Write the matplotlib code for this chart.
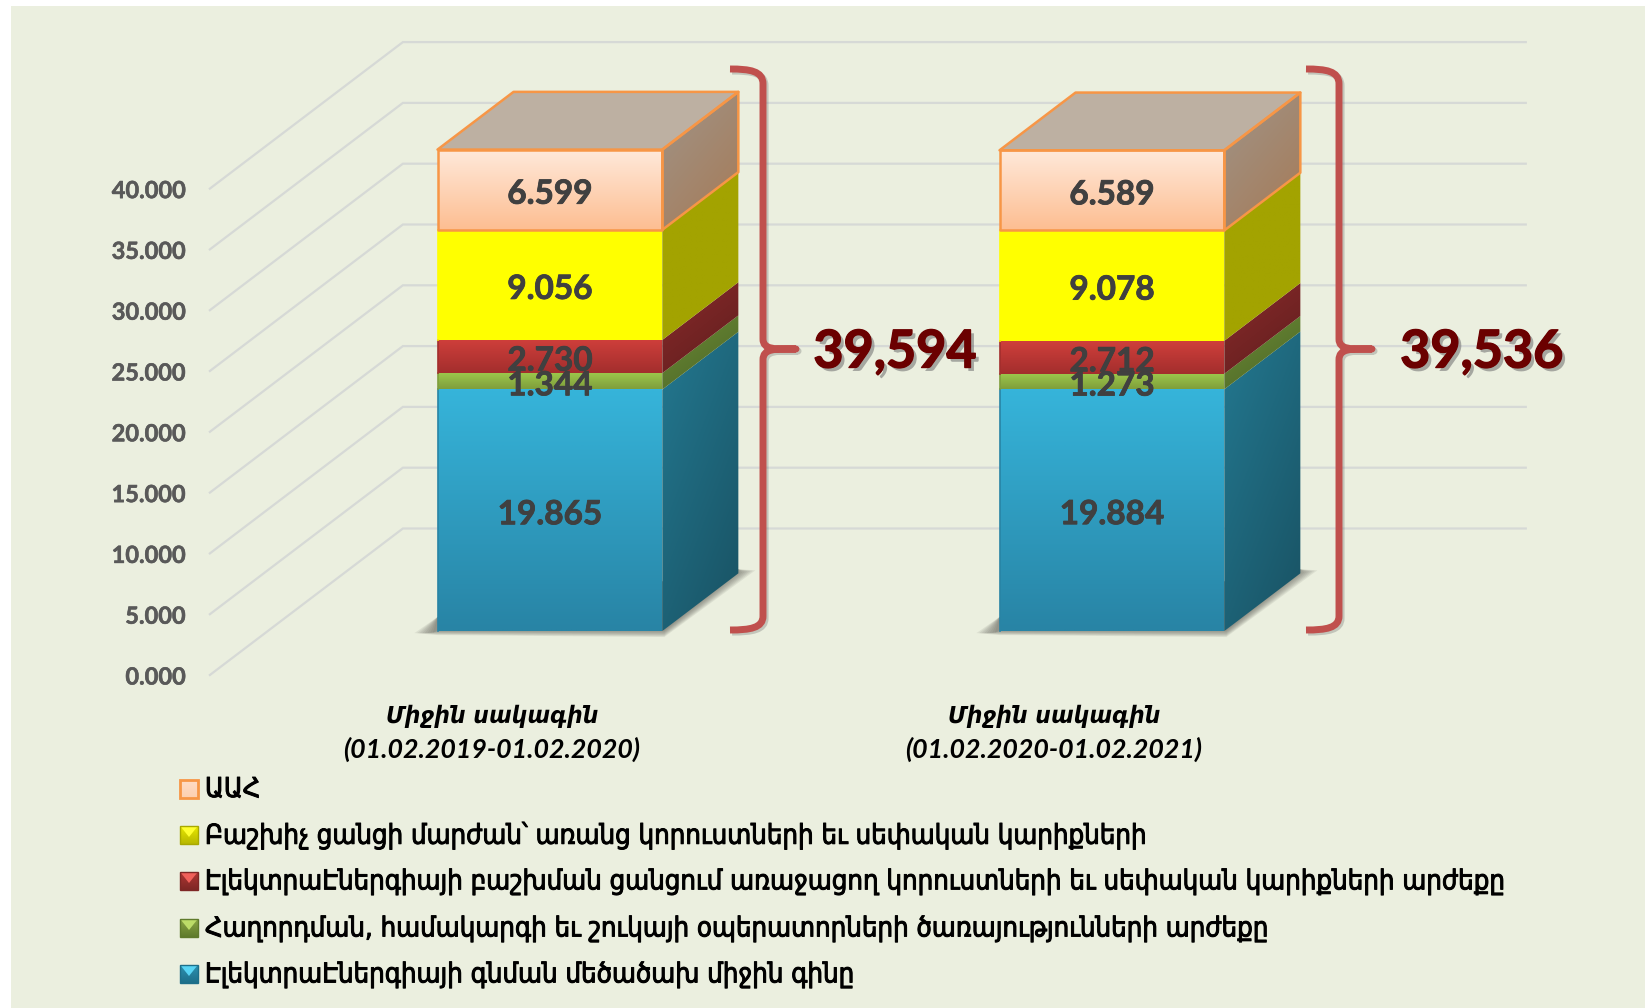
import numpy as np
import matplotlib
matplotlib.use("Agg")
from matplotlib import pyplot as plt
from matplotlib.colors import to_rgb
from matplotlib.patches import Polygon, Rectangle, PathPatch
from matplotlib.path import Path
import matplotlib.patheffects as pe

# values, in thousands as printed on the chart
vals_2020 = [19.865, 1.344, 2.730, 9.056, 6.599]
vals_2021 = [19.884, 1.273, 2.712, 9.078, 6.589]
val_labels_2020 = ["19.865", "1.344", "2.730", "9.056", "6.599"]
val_labels_2021 = ["19.884", "1.273", "2.712", "9.078", "6.589"]
totals = ["39,594", "39,536"]
ticks = [0, 5, 10, 15, 20, 25, 30, 35, 40]
tick_labels = ["0.000", "5.000", "10.000", "15.000", "20.000", "25.000", "30.000", "35.000", "40.000"]
cat_names = ["Միջին սակագին", "Միջին սակագին"]
cat_dates = ["(01.02.2019-01.02.2020)", "(01.02.2020-01.02.2021)"]
legend_labels = [
    "ԱԱՀ",
    "Բաշխիչ ցանցի մարժան՝ առանց կորուստների եւ սեփական կարիքների",
    "ԷլեկտրաԷներգիայի բաշխման ցանցում առաջացող կորուստների եւ սեփական կարիքների արժեքը",
    "Հաղորդման, համակարգի եւ շուկայի օպերատորների ծառայությունների արժեքը",
    "ԷլեկտրաԷներգիայի գնման մեծածախ միջին գինը",
]

# (front top, front bottom, side top, side bottom) for each stacked segment
seg_colors = [
    ("#36b4da", "#2884a5", "#237890", "#195263"),
    ("#9dc84c", "#7f9e3b", "#6c8c36", "#4b6426"),
    ("#cf3f3b", "#a32e2d", "#8a2b2b", "#5e1d1d"),
    ("#ffff00", "#ffff00", "#a3a300", "#a3a300"),
    ("#ffe9da", "#fdbe92", "#a09488", "#a67a56"),
]
# swatch: light triangle, body top, body bottom
swatch_colors = [("#ffe4d2", "#ffdcc6", "#fdd0b0"), ("#ffff30", "#e8e800", "#b8b800"),
                 ("#f0605a", "#b03633", "#7e2725"), ("#bcdc68", "#8aa644", "#5f7a2c"),
                 ("#58d4f4", "#2c90b0", "#1d6f8a")]
swatch_edges = ["#f79646", "#a8a800", "#7e2725", "#5f7a2c", "#1d6f8a"]
swatch_y = [789, 835, 881, 928, 974]

W, H = 1645, 1008
X0, X_UNIT = 492.0, 562.0   # pixel of category 0, pixels per category
Y0, Y_UNIT = 675.0, 12.16   # pixel of value 0, pixels per thousand
DEPTH_X = 193.0 / X_UNIT
DEPTH_Y = 146.5 / Y_UNIT
BAR_W = 0.4
BAR_D0, BAR_D1 = 0.30, 0.694
NUM_FONT = ["Lato", "DejaVu Sans"]


def proj(c, d, v):
    return c + d * DEPTH_X, v + d * DEPTH_Y


def to_px(x, y):
    return X0 + x * X_UNIT, Y0 - y * Y_UNIT


def from_px(x, y):
    return (x - X0) / X_UNIT, (Y0 - y) / Y_UNIT


def grad_poly(ax, verts, c0, c1, diag=False, zorder=3):
    xs = [p[0] for p in verts]
    ys = [p[1] for p in verts]
    n = 64
    u, t = np.meshgrid(np.linspace(0, 1, n), np.linspace(1, 0, n))
    f = 0.6 * t + 0.4 * u if diag else t
    f = f[..., None]
    img = (1 - f) * np.array(to_rgb(c0)) + f * np.array(to_rgb(c1))
    im = ax.imshow(img, extent=(min(xs), max(xs), min(ys), max(ys)), origin="lower",
                   aspect="auto", zorder=zorder, interpolation="bilinear")
    im.set_clip_path(Polygon(verts, closed=True, transform=ax.transData))


fig = plt.figure(figsize=(W / 100, H / 100), dpi=100, facecolor="white")
fig.add_artist(Rectangle((11 / W, 0), (W - 11) / W, (H - 6) / H, transform=fig.transFigure,
                         facecolor="#ebefdf", edgecolor="none", zorder=0))

ax = fig.add_axes([0, 0, 1, 1], zorder=1)
ax.patch.set_alpha(0)
ax.axis("off")
xlim = (-X0 / X_UNIT, (W - X0) / X_UNIT)
ylim = ((Y0 - H) / Y_UNIT, Y0 / Y_UNIT)

ov = fig.add_axes([0, 0, 1, 1], zorder=2)
ov.patch.set_alpha(0)
ov.axis("off")

# grid on the left wall and the back wall
for t, lab in zip(ticks, tick_labels):
    xa, ya = proj(-0.502, 0, t)
    xb, yb = proj(-0.502, 1, t)
    xc, yc = proj(1.496, 1, t)
    ax.plot([xa, xb, xc], [ya, yb, yc], color="#d6d9d6", lw=1.6, zorder=1, solid_joinstyle="miter")
    ax.text((186 - X0) / X_UNIT, t - 2.0 / Y_UNIT, lab, ha="right", va="center",
            fontsize=17, fontweight="bold", family=NUM_FONT, color="#595959",
            path_effects=[pe.withStroke(linewidth=0.4, foreground="#595959")])


def draw_bar(c, vals, labels):
    l, r = c - BAR_W / 2, c + BAR_W / 2
    lx, by = to_px(*proj(l, BAR_D0, 0))
    rx, _ = to_px(*proj(r, BAR_D0, 0))
    bx, bky = to_px(*proj(r, BAR_D1, 0))
    # soft floor shadow, stacked polygons
    for k in range(8):
        e = k * 1.3
        pts_px = [(lx - 23 + e * 2, by + 2), (lx, by - 14), (bx, bky - 4),
                  (bx + 17 - e * 2, bky - 3 + e * 0.3), (rx + 2, by + 6 - e * 0.7), (lx, by + 4 - e * 0.5)]
        ax.add_patch(Polygon([from_px(*p) for p in pts_px], closed=True, facecolor="#55554d",
                             edgecolor="none", alpha=0.1, zorder=2))
    base = 0.0
    for i, v in enumerate(vals):
        top = base + v
        front_t, front_b, side_t, side_b = seg_colors[i]
        side = [proj(r, BAR_D0, base), proj(r, BAR_D1, base), proj(r, BAR_D1, top), proj(r, BAR_D0, top)]
        front = [proj(l, BAR_D0, base), proj(r, BAR_D0, base), proj(r, BAR_D0, top), proj(l, BAR_D0, top)]
        grad_poly(ax, side, side_t, side_b, diag=True)
        grad_poly(ax, front, front_t, front_b)
        if i == 4:
            roof = [proj(l, BAR_D0, top), proj(r, BAR_D0, top), proj(r, BAR_D1, top), proj(l, BAR_D1, top)]
            ax.add_patch(Polygon(roof, closed=True, facecolor="#bdb0a2", edgecolor="none", zorder=3))
            for poly in (roof, side, front):
                ax.add_patch(Polygon(poly, closed=True, fill=False, edgecolor="#f79646", lw=1.8,
                                     zorder=4, joinstyle="round"))
        else:
            ax.plot([front[0][0], front[3][0]], [front[0][1], front[3][1]], color=front_b, lw=1.2, zorder=4)
        base = top
    base = 0.0
    for v, lab in zip(vals, labels):
        x, y = proj(c, BAR_D0, base + v / 2)
        ax.text(x, y - 4.5 / Y_UNIT, lab, ha="center", va="center", fontsize=24, fontweight="bold",
                family=NUM_FONT, color="#404040", zorder=6,
                path_effects=[pe.withStroke(linewidth=0.6, foreground="#404040")])
        base += v


draw_bar(0, vals_2020, val_labels_2020)
draw_bar(1, vals_2021, val_labels_2021)
ax.set_xlim(xlim)
ax.set_ylim(ylim)

for c, (name, dates) in enumerate(zip(cat_names, cat_dates)):
    ax.text(c, (Y0 - 716) / Y_UNIT, name, ha="center", va="center", fontsize=17.5, fontweight="bold",
            fontstyle="italic", family=["DejaVu Sans"], color="black", stretch="condensed")
    ax.text(c, (Y0 - 749) / Y_UNIT, dates, ha="center", va="center", fontsize=19.3, fontweight="bold",
            fontstyle="italic", family=NUM_FONT, color="black")


def brace(dx):
    verts = [(730 + dx, 69), (750 + dx, 69), (763 + dx, 71), (763 + dx, 84),
             (763 + dx, 339),
             (763 + dx, 350), (775 + dx, 349), (796 + dx, 349),
             (775 + dx, 349), (763 + dx, 348), (763 + dx, 360),
             (763 + dx, 616),
             (763 + dx, 628), (750 + dx, 630), (730 + dx, 630)]
    codes = [Path.MOVETO, Path.CURVE4, Path.CURVE4, Path.CURVE4, Path.LINETO,
             Path.CURVE4, Path.CURVE4, Path.CURVE4, Path.CURVE4, Path.CURVE4, Path.CURVE4,
             Path.LINETO, Path.CURVE4, Path.CURVE4, Path.CURVE4]
    ov.add_patch(PathPatch(Path(verts, codes), fill=False, edgecolor="#c0504d", lw=5,
                           capstyle="butt", joinstyle="round", zorder=3,
                           path_effects=[pe.SimpleLineShadow(offset=(1.5, -1.5), shadow_color="#777777", alpha=0.35),
                                         pe.Normal()]))


brace(0)
brace(576)
for x, lab in zip([895, 1482], totals):
    ov.text(x, 353, lab, ha="center", va="center", fontsize=37.5, fontweight="bold",
            family=NUM_FONT, color="#6b0000", zorder=5,
            path_effects=[pe.withSimplePatchShadow(offset=(2.5, -2.5), shadow_rgbFace="#777777", alpha=0.6),
                          pe.withStroke(linewidth=1.0, foreground="#6b0000")])

# legend, top entry is the top segment
for lab, (c_l, c0, c1), ec, y, n in zip(legend_labels, swatch_colors, swatch_edges, swatch_y, range(5)):
    x0, x1 = 180, 198
    y0, y1 = y - 9, y + 9
    grad = np.linspace(0, 1, 32)[:, None, None] * (np.array(to_rgb(c1)) - np.array(to_rgb(c0))) + np.array(to_rgb(c0))
    ov.imshow(grad, extent=(x0, x1, y1, y0), aspect="auto", zorder=3)
    if n > 0:
        ov.add_patch(Polygon([(x0 + 1, y0 + 1), (x1 - 1, y0 + 1), ((x0 + x1) / 2, y + 2)], closed=True,
                             facecolor=c_l, edgecolor="none", zorder=4))
    ov.add_patch(Polygon([(x0, y0), (x1, y0), (x1, y1), (x0, y1)], closed=True, fill=False, edgecolor=ec,
                         lw=2.0 if n == 0 else 1.0, zorder=5))
    ov.text(205, y + 1, lab, ha="left", va="center", fontsize=19.7, family=["DejaVu Sans"], color="black",
            stretch="condensed", path_effects=[pe.withStroke(linewidth=0.7, foreground="black")])
ov.set_xlim(0, W)
ov.set_ylim(H, 0)

fig.savefig("out.png", dpi=100)
